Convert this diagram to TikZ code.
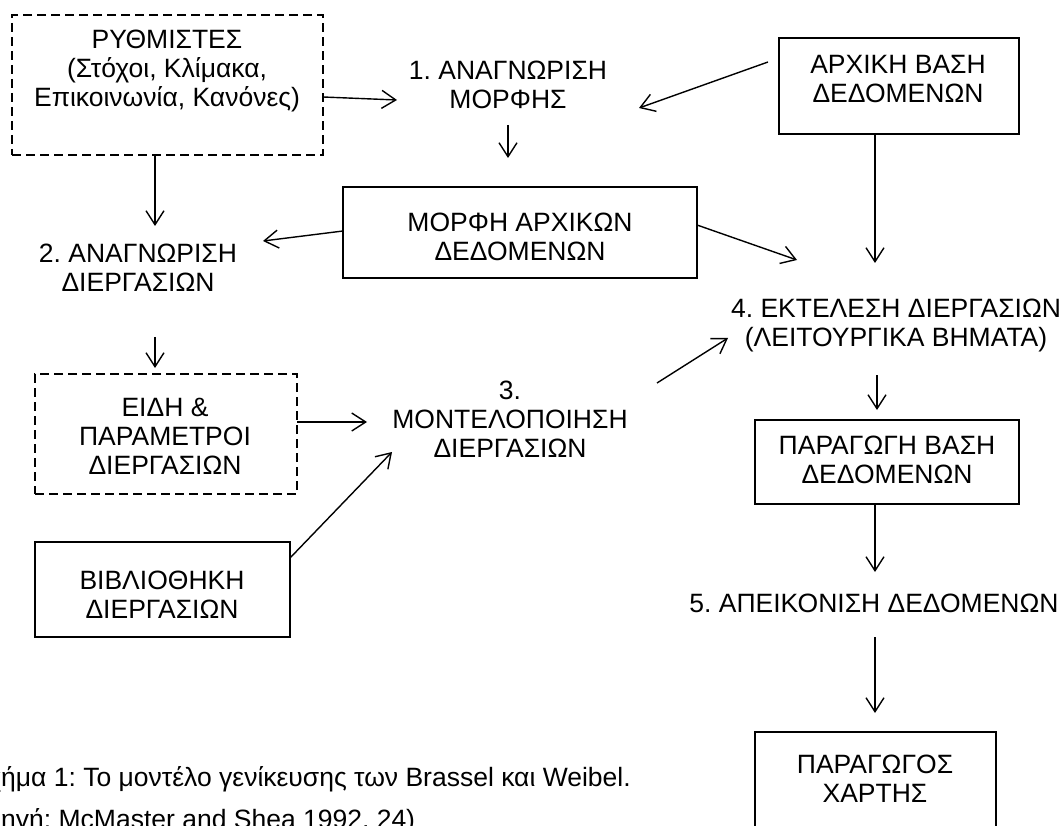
\documentclass[tikz,border=0pt]{standalone}
\usepackage{fontspec}
\setmainfont{Liberation Sans}
\usetikzlibrary{arrows.meta}
\frenchspacing
\begin{document}
\begin{tikzpicture}[x=1pt,y=-1pt,
  every node/.style={font=\fontsize{26.5}{29}\selectfont, inner sep=0pt},
  txt/.style={align=center},
  box/.style={draw, line width=1.8pt, inner sep=0pt},
  dbox/.style={box, dash pattern=on 9pt off 5pt},
  arr/.style={line width=1.4pt, -{Straight Barb[length=14pt,width=18pt]}}]
\useasboundingbox (0,0) rectangle (1063,826);

% boxes
\node[dbox, minimum width=311, minimum height=140] (rg)  at (167.5,85) {};
\node[box,  minimum width=240, minimum height=96]  (arx) at (899,86) {};
\node[box,  minimum width=354, minimum height=91]  (mor) at (520,232.5) {};
\node[dbox, minimum width=262, minimum height=120] (eid) at (166,434) {};
\node[box,  minimum width=255, minimum height=95]  (bib) at (162.5,589.5) {};
\node[box,  minimum width=264, minimum height=84]  (pbd) at (887,462) {};
\node[box,  minimum width=241, minimum height=138] (pxa) at (875.5,801) {};

% texts inside the boxes
\node[txt] (rgt)  at (167,71)   {ΡΥΘΜΙΣΤΕΣ\\(Στόχοι, Κλίμακα,\\Επικοινωνία, Κανόνες)};
\node[txt] (arxt) at (898,79)   {ΑΡΧΙΚΗ ΒΑΣΗ\\ΔΕΔΟΜΕΝΩΝ};
\node[txt] (mort) at (520,236.5){ΜΟΡΦΗ ΑΡΧΙΚΩΝ\\ΔΕΔΟΜΕΝΩΝ};
\node[txt] (eidt) at (165,436)  {ΕΙΔΗ \&\\ΠΑΡΑΜΕΤΡΟΙ\\ΔΙΕΡΓΑΣΙΩΝ};
\node[txt] (bibt) at (162,595)  {ΒΙΒΛΙΟΘΗΚΗ\\ΔΙΕΡΓΑΣΙΩΝ};
\node[txt] (pbdt) at (887,460)  {ΠΑΡΑΓΩΓΗ ΒΑΣΗ\\ΔΕΔΟΜΕΝΩΝ};
\node[txt] (pxat) at (875,779)  {ΠΑΡΑΓΩΓΟΣ\\ΧΑΡΤΗΣ};

% process steps
\node[txt] (s1) at (508,84.5)  {1. ΑΝΑΓΝΩΡΙΣΗ\\ΜΟΡΦΗΣ};
\node[txt] (s2) at (138,267.5) {2. ΑΝΑΓΝΩΡΙΣΗ\\ΔΙΕΡΓΑΣΙΩΝ};
\node[txt] (s3) at (510,419)   {3.\\ΜΟΝΤΕΛΟΠΟΙΗΣΗ\\ΔΙΕΡΓΑΣΙΩΝ};
\node[txt] (s4) at (896,325)   {4. ΕΚΤΕΛΕΣΗ ΔΙΕΡΓΑΣΙΩΝ\\(ΛΕΙΤΟΥΡΓΙΚΑ ΒΗΜΑΤΑ)};
\node[txt] (s5) at (874,603)   {5. ΑΠΕΙΚΟΝΙΣΗ ΔΕΔΟΜΕΝΩΝ};

% caption
\node[anchor=base west] (cap1) at (1,786) {\llap{Σχ}ήμα 1: Το μοντέλο γενίκευσης των Brassel και Weibel.};
\node[anchor=base west] (cap2) at (1,828) {\llap{(Π}ηγή: McMaster and Shea 1992, 24)};

% connector end points
\coordinate (a1s) at (323,97);   \coordinate (a1e) at (397,100);
\coordinate (b1s) at (768,62);   \coordinate (b1e) at (639,108);
\coordinate (c1s) at (508,125);  \coordinate (c1e) at (508,158);
\coordinate (d1e) at (155,226);
\coordinate (e1s) at (343,231);  \coordinate (e1e) at (263,241);
\coordinate (f1s) at (697,225);  \coordinate (f1e) at (797,260);
\coordinate (g1e) at (875,263);
\coordinate (h1s) at (155,337);  \coordinate (h1e) at (155,368);
\coordinate (i1s) at (297,422);  \coordinate (i1e) at (367,422);
\coordinate (j1s) at (290,558);  \coordinate (j1e) at (392,452);
\coordinate (k1s) at (657,383);  \coordinate (k1e) at (728,338);
\coordinate (l1s) at (877,375);  \coordinate (l1e) at (877,410);
\coordinate (m1e) at (875,572);
\coordinate (n1s) at (875,637);  \coordinate (n1e) at (875,713);

% connectors
\draw[arr] (a1s) -- (a1e);
\draw[arr] (b1s) -- (b1e);
\draw[arr] (c1s) -- (c1e);
\draw[arr] (rg.south -| d1e) -- (d1e);
\draw[arr] (e1s) -- (e1e);
\draw[arr] (f1s) -- (f1e);
\draw[arr] (arx.south -| g1e) -- (g1e);
\draw[arr] (h1s) -- (h1e);
\draw[arr] (i1s) -- (i1e);
\draw[arr] (j1s) -- (j1e);
\draw[arr] (k1s) -- (k1e);
\draw[arr] (l1s) -- (l1e);
\draw[arr] (pbd.south -| m1e) -- (m1e);
\draw[arr] (n1s) -- (n1e);
\end{tikzpicture}
\end{document}
